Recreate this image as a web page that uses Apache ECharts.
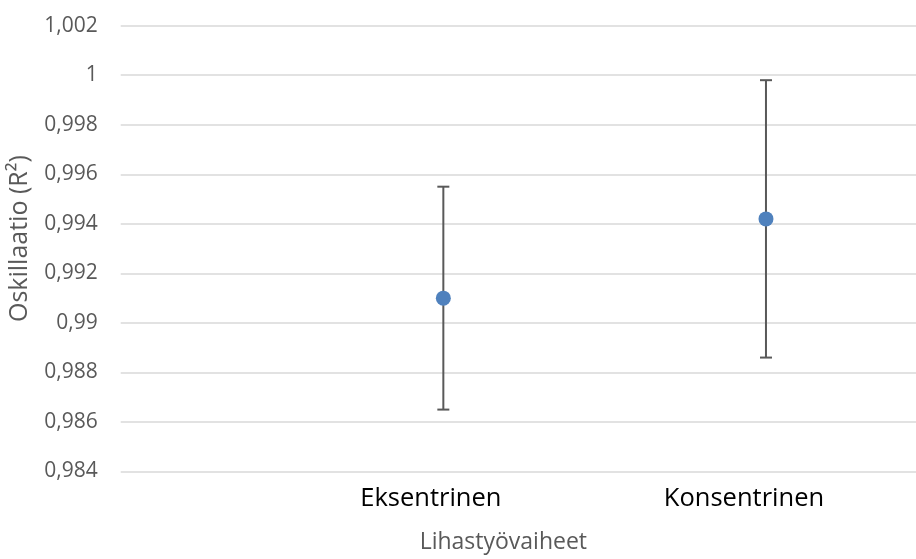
<!DOCTYPE html>
<html>
<head>
<meta charset="utf-8">
<script src="https://cdn.jsdelivr.net/npm/echarts@6/dist/echarts.min.js"></script>
<style>
html,body{margin:0;padding:0;background:#fff;}
#chart{width:916px;height:559px;}
</style>
</head>
<body>
<div id="chart"></div>
<script>
// Data
var categories = ['Eksentrinen', 'Konsentrinen'];
var xPositions = [1, 2];
var means = [0.9910, 0.9942];
var errors = [0.0045, 0.0056];
var yTicks = { min: 0.984, max: 1.002, interval: 0.002 };
var xTitle = 'Lihastyövaiheet';
var yTitle = 'Oskillaatio (R²)';

var pointData = xPositions.map(function (x, i) { return [x, means[i]]; });
var errData = xPositions.map(function (x, i) { return [x, means[i] - errors[i], means[i] + errors[i]]; });

var chart = echarts.init(document.getElementById('chart'), null, { renderer: 'canvas' });
var font = 'Open Sans';
chart.setOption({
  animation: false,
  backgroundColor: '#ffffff',
  grid: { left: 120.7, top: 25.7, bottom: 87.5, right: 0, containLabel: false, outerBoundsMode: 'none' },
  xAxis: {
    type: 'value', min: 0, max: 2.465, interval: 1,
    axisLine: { show: false }, axisTick: { show: false }, splitLine: { show: false },
    axisLabel: {
      showMaxLabel: false, showMinLabel: false, margin: 14,
      formatter: function (v) {
        var i = xPositions.indexOf(v);
        if (i < 0) return '';
        return '{c' + i + '|' + categories[i] + '}';
      },
      rich: {
        c0: { fontFamily: font, fontSize: 25.5, color: '#000000', padding: [0, 25, 0, 0] },
        c1: { fontFamily: font, fontSize: 25.5, color: '#000000', padding: [0, 44, 0, 0] }
      }
    },
    name: xTitle, nameLocation: 'middle', nameGap: 59,
    nameTextStyle: { fontFamily: font, fontSize: 23, color: '#595959', padding: [0, 30, 0, 0] }
  },
  yAxis: {
    type: 'value', min: yTicks.min, max: yTicks.max, interval: yTicks.interval,
    axisLine: { show: false }, axisTick: { show: false },
    splitLine: { lineStyle: { color: '#d9d9d9', width: 1.5 } },
    axisLabel: {
      fontFamily: font, fontSize: 21, color: '#595959', margin: 23,
      formatter: function (v) { return String(parseFloat(v.toFixed(3))).replace('.', ','); }
    },
    name: yTitle, nameLocation: 'middle', nameGap: 88, nameRotate: 90,
    nameTextStyle: { fontFamily: font, fontSize: 25, color: '#595959', padding: [0, 0, 0, 20] }
  },
  series: [
    {
      type: 'custom',
      data: errData,
      z: 2,
      renderItem: function (params, api) {
        var x = api.value(0);
        var lo = api.coord([x, api.value(1)]);
        var hi = api.coord([x, api.value(2)]);
        var hw = 6;
        var style = { stroke: '#595959', lineWidth: 2, fill: null };
        return {
          type: 'group',
          children: [
            { type: 'line', shape: { x1: lo[0], y1: lo[1], x2: hi[0], y2: hi[1] }, style: style },
            { type: 'line', shape: { x1: lo[0] - hw, y1: lo[1], x2: lo[0] + hw, y2: lo[1] }, style: style },
            { type: 'line', shape: { x1: hi[0] - hw, y1: hi[1], x2: hi[0] + hw, y2: hi[1] }, style: style }
          ]
        };
      }
    },
    {
      type: 'scatter',
      data: pointData,
      symbol: 'circle',
      symbolSize: 15,
      z: 3,
      itemStyle: { color: '#4f81bd', opacity: 1 }
    }
  ]
});
</script>
</body>
</html>
